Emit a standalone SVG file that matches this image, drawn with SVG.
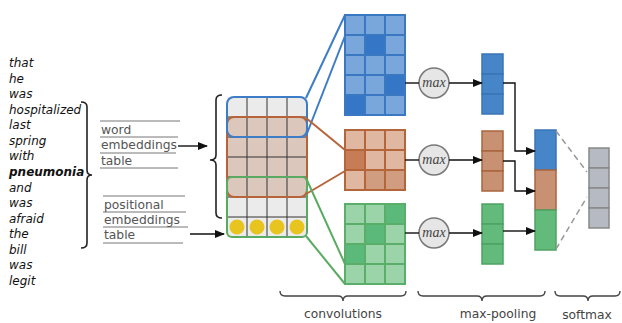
<svg xmlns="http://www.w3.org/2000/svg" width="622" height="323" viewBox="0 0 622 323">
<defs>
<marker id="ah" markerWidth="10" markerHeight="8" refX="9" refY="4" orient="auto" markerUnits="userSpaceOnUse">
<path d="M0,0 L10,4 L0,8 z" fill="#111"/>
</marker>
<style>
.w{font-family:"DejaVu Sans",sans-serif;font-style:italic;font-size:12px;fill:#111}
.lbl{font-family:"DejaVu Sans",sans-serif;font-size:12.3px;fill:#555}
.cap{font-family:"DejaVu Sans",sans-serif;font-size:12.3px;fill:#444;text-anchor:middle}
.ul{stroke:#777;stroke-width:1}
.br{fill:none;stroke:#222;stroke-width:1.6}
.bb{fill:none;stroke:#444;stroke-width:1.4}
.ar{stroke:#111;stroke-width:1.4;fill:none}
.grid{stroke:#333;stroke-width:1;fill:none}
.bc{stroke:#3a78c2;stroke-width:2}
.oc{stroke:#b5653a;stroke-width:2}
.gc{stroke:#5aae6a;stroke-width:2}
.mx{fill:#e6e6e6;stroke:#777;stroke-width:1.5}
.mt{font-family:"Liberation Serif",serif;font-style:italic;font-size:14px;fill:#444;text-anchor:middle}
</style>
</defs>

<g id="words">
<text class="w" x="9" y="67">that</text>
<text class="w" x="9" y="83">he</text>
<text class="w" x="9" y="98">was</text>
<text class="w" x="9" y="114">hospitalized</text>
<text class="w" x="9" y="129">last</text>
<text class="w" x="9" y="145">spring</text>
<text class="w" x="9" y="160">with</text>
<text class="w" x="9" y="176" font-weight="bold">pneumonia</text>
<text class="w" x="9" y="192">and</text>
<text class="w" x="9" y="207">was</text>
<text class="w" x="9" y="223">afraid</text>
<text class="w" x="9" y="238">the</text>
<text class="w" x="9" y="254">bill</text>
<text class="w" x="9" y="269">was</text>
<text class="w" x="9" y="285">legit</text>
<path class="br" d="M81,102 q6,0 6,5 L87,170 q0,5 5,5 q-5,0 -5,5 L87,243 q0,5 -6,5"/>
</g>

<g id="word-embeddings">
<line class="ul" x1="100" y1="121" x2="180" y2="121"/>
<line class="ul" x1="100" y1="137" x2="178" y2="137"/>
<line class="ul" x1="100" y1="153" x2="176" y2="153"/>
<line class="ul" x1="100" y1="168" x2="178" y2="168"/>
<text class="lbl" x="101" y="134">word</text>
<text class="lbl" x="101" y="149">embeddings</text>
<text class="lbl" x="101" y="165">table</text>
</g>

<g id="positional-embeddings">
<line class="ul" x1="103" y1="196" x2="185" y2="196"/>
<line class="ul" x1="103" y1="212" x2="186" y2="212"/>
<line class="ul" x1="103" y1="227" x2="188" y2="227"/>
<line class="ul" x1="103" y1="243" x2="183" y2="243"/>
<text class="lbl" x="104" y="209">positional</text>
<text class="lbl" x="104" y="224">embeddings</text>
<text class="lbl" x="104" y="239">table</text>
</g>

<g id="input-matrix">
<rect x="227" y="97" width="80" height="20" fill="#ebebeb"/>
<rect x="227" y="117" width="80" height="80" fill="#dcc7bc"/>
<rect x="227" y="197" width="80" height="40" fill="#ebebeb"/>
<path class="grid" d="M247,97 V237 M267,97 V237 M287,97 V237 M227,117 H307 M227,137 H307 M227,157 H307 M227,177 H307 M227,197 H307 M227,217 H307"/>
<g fill="#e8c41e">
<circle cx="237" cy="227" r="7.5"/>
<circle cx="257" cy="227" r="7.5"/>
<circle cx="277" cy="227" r="7.5"/>
<circle cx="297" cy="227" r="7.5"/>
</g>
<rect x="227" y="117" width="80" height="80" rx="7" fill="none" stroke="#b7643a" stroke-width="2"/>
<rect x="227" y="97" width="80" height="40" rx="7" fill="none" stroke="#3d7cc6" stroke-width="2"/>
<rect x="227" y="177" width="80" height="60" rx="5" fill="none" stroke="#5aab62" stroke-width="2"/>
<path class="br" d="M222,95 q-6,0 -6,5 L216,155 q0,5 -6,5 q6,0 6,5 L216,213 q0,5 6,5"/>
</g>

<g id="conv-blue">
<g class="bc" fill="#79a7dc">
<rect x="345" y="15" width="20" height="20"/><rect x="365" y="15" width="20" height="20"/><rect x="385" y="15" width="20" height="20"/>
<rect x="345" y="35" width="20" height="20"/><rect x="365" y="35" width="20" height="20" fill="#3577c6"/><rect x="385" y="35" width="20" height="20"/>
<rect x="345" y="55" width="20" height="20"/><rect x="365" y="55" width="20" height="20"/><rect x="385" y="55" width="20" height="20"/>
<rect x="345" y="75" width="20" height="20"/><rect x="365" y="75" width="20" height="20"/><rect x="385" y="75" width="20" height="20" fill="#3577c6"/>
<rect x="345" y="95" width="20" height="20" fill="#3577c6"/><rect x="365" y="95" width="20" height="20"/><rect x="385" y="95" width="20" height="20"/>
</g>
</g>

<g id="conv-orange">
<g class="oc" fill="#e0b8a1">
<rect x="345" y="130" width="20" height="20"/><rect x="365" y="130" width="20" height="20"/><rect x="385" y="130" width="20" height="20"/>
<rect x="345" y="150" width="20" height="20" fill="#c67d55"/><rect x="365" y="150" width="20" height="20"/><rect x="385" y="150" width="20" height="20"/>
<rect x="345" y="170" width="20" height="20"/><rect x="365" y="170" width="20" height="20" fill="#d09d80"/><rect x="385" y="170" width="20" height="20" fill="#d09d80"/>
</g>
</g>

<g id="conv-green">
<g class="gc" fill="#9cd4a9">
<rect x="345" y="204" width="20" height="20"/><rect x="365" y="204" width="20" height="20"/><rect x="385" y="204" width="20" height="20" fill="#5bba79"/>
<rect x="345" y="224" width="20" height="20"/><rect x="365" y="224" width="20" height="20" fill="#5bba79"/><rect x="385" y="224" width="20" height="20"/>
<rect x="345" y="244" width="20" height="20" fill="#5bba79"/><rect x="365" y="244" width="20" height="20"/><rect x="385" y="244" width="20" height="20"/>
<rect x="345" y="264" width="20" height="20"/><rect x="365" y="264" width="20" height="20"/><rect x="385" y="264" width="20" height="20"/>
</g>
</g>

<g id="max-blue"><circle class="mx" cx="434" cy="83" r="15"/><text class="mt" x="434" y="87">max</text></g>
<g id="max-orange"><circle class="mx" cx="434" cy="160" r="15"/><text class="mt" x="434" y="164">max</text></g>
<g id="max-green"><circle class="mx" cx="434" cy="233" r="15"/><text class="mt" x="434" y="237">max</text></g>

<g id="pool-blue" stroke="#3a74b8" stroke-width="1.5" fill="#4785c9">
<rect x="482" y="54" width="21" height="20"/><rect x="482" y="74" width="21" height="20"/><rect x="482" y="94" width="21" height="20"/>
</g>
<g id="pool-orange" stroke="#a9653e" stroke-width="1.5" fill="#c99173">
<rect x="482" y="131" width="21" height="20"/><rect x="482" y="151" width="21" height="20"/><rect x="482" y="171" width="21" height="20"/>
</g>
<g id="pool-green" stroke="#4fa262" stroke-width="1.5" fill="#63bb7b">
<rect x="482" y="204" width="21" height="20"/><rect x="482" y="224" width="21" height="20"/><rect x="482" y="244" width="21" height="20"/>
</g>

<g id="concat">
<rect x="535" y="130" width="21" height="40" fill="#4785c9" stroke="#3a74b8" stroke-width="1.5"/>
<rect x="535" y="170" width="21" height="40" fill="#c99173" stroke="#a9653e" stroke-width="1.5"/>
<rect x="535" y="210" width="21" height="40" fill="#63bb7b" stroke="#4fa262" stroke-width="1.5"/>
</g>

<g id="softmax" stroke="#888" stroke-width="1.5" fill="#b6bac2">
<rect x="589" y="148" width="20" height="20"/><rect x="589" y="168" width="20" height="20"/><rect x="589" y="188" width="20" height="20"/><rect x="589" y="208" width="20" height="20"/>
</g>

<g id="connectors">
<line class="ar" x1="178" y1="146" x2="207" y2="146" marker-end="url(#ah)"/>
<line class="ar" x1="190" y1="234" x2="224" y2="234" marker-end="url(#ah)"/>
<g stroke="#3d7cc6" stroke-width="2">
<line x1="306" y1="98" x2="345" y2="15"/>
<line x1="306" y1="136" x2="345" y2="36"/>
</g>
<g stroke="#b7643a" stroke-width="2">
<line x1="306" y1="118" x2="345" y2="150"/>
<line x1="306" y1="194" x2="345" y2="171"/>
</g>
<g stroke="#5aab62" stroke-width="2">
<line x1="306" y1="178" x2="345" y2="264"/>
<line x1="306" y1="236" x2="345" y2="284"/>
</g>
<g class="ar">
<line x1="405" y1="83" x2="419" y2="83"/>
<line x1="405" y1="160" x2="419" y2="160"/>
<line x1="405" y1="233" x2="419" y2="233"/>
<line x1="449" y1="83" x2="482" y2="83" marker-end="url(#ah)"/>
<line x1="449" y1="160" x2="482" y2="160" marker-end="url(#ah)"/>
<line x1="449" y1="233" x2="482" y2="233" marker-end="url(#ah)"/>
<polyline points="503,83 515,83 515,151 535,151" marker-end="url(#ah)"/>
<polyline points="503,161 515,161 515,191 535,191" marker-end="url(#ah)"/>
<line x1="503" y1="231" x2="535" y2="231" marker-end="url(#ah)"/>
</g>
<g stroke="#999" stroke-width="1.5" stroke-dasharray="6,4" fill="none">
<line x1="556" y1="131" x2="587" y2="172"/>
<line x1="556" y1="249" x2="587" y2="197"/>
</g>
</g>

<g id="bottom-braces">
<path class="bb" d="M280,291 q0,5 5,5 L338,296 q5,0 5,5 q0,-5 5,-5 L401,296 q5,0 5,-5"/>
<path class="bb" d="M418,291 q0,5 5,5 L477,296 q5,0 5,5 q0,-5 5,-5 L540,296 q5,0 5,-5"/>
<path class="bb" d="M555,291 q0,5 5,5 L583,296 q5,0 5,5 q0,-5 5,-5 L615,296 q5,0 5,-5"/>
<text class="cap" x="343" y="318">convolutions</text>
<text class="cap" x="498" y="318">max-pooling</text>
<text class="cap" x="587" y="319">softmax</text>
</g>
</svg>
